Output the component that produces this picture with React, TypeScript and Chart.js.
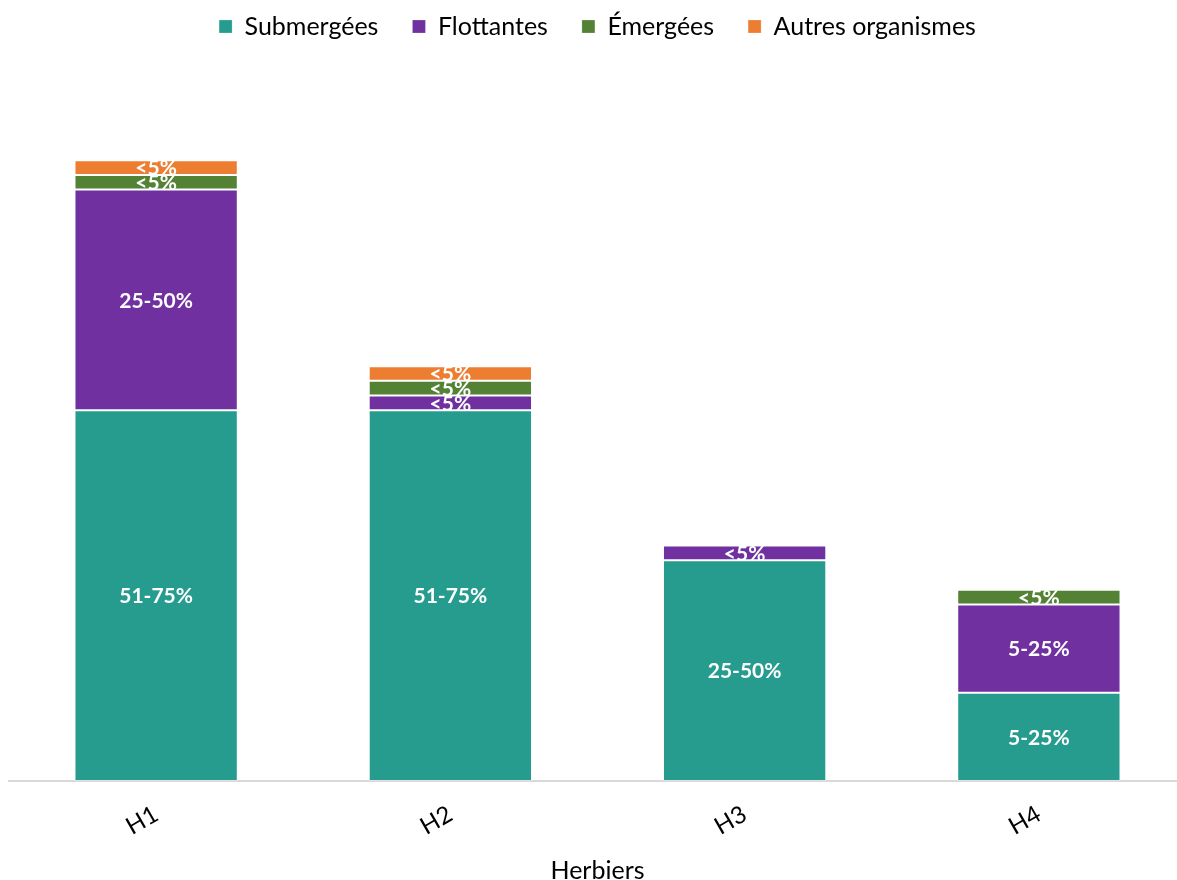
import React, { useEffect, useRef } from "react";
import { Chart, registerables } from "chart.js";

Chart.register(...registerables);

// Herbiers et classes de recouvrement par type de végétation
const herbiers = ["H1", "H2", "H3", "H4"];
const submergees = ["51-75%", "51-75%", "25-50%", "5-25%"];
const flottantes = ["25-50%", "<5%", "<5%", "5-25%"];
const emergees = ["<5%", "<5%", null, "<5%"];
const autres = ["<5%", "<5%", null, null];

// Valeur médiane utilisée pour chaque classe de recouvrement
const classValues: Record<string, number> = {
  "<5%": 2.5,
  "5-25%": 15,
  "25-50%": 37.5,
  "51-75%": 63,
};

const toValues = (classes: (string | null)[]) =>
  classes.map((c) => (c ? classValues[c] : null));

const FONT = "Lato, 'Open Sans', sans-serif";

const segmentLabels = {
  id: "segmentLabels",
  afterDatasetsDraw(chart: any) {
    const ctx = chart.ctx;
    ctx.save();
    ctx.fillStyle = "#ffffff";
    ctx.font = `bold 21px ${FONT}`;
    ctx.textAlign = "center";
    ctx.textBaseline = "middle";
    chart.data.datasets.forEach((ds: any, di: number) => {
      const meta = chart.getDatasetMeta(di);
      if (meta.hidden) return;
      meta.data.forEach((bar: any, i: number) => {
        const cls = ds.classes[i];
        if (!cls) return;
        const cy = (bar.y + bar.base) / 2;
        ctx.fillText(cls, bar.x, cy + 1);
      });
    });
    ctx.restore();
  },
};

export default function App() {
  const canvasRef = useRef<HTMLCanvasElement | null>(null);

  useEffect(() => {
    if (!canvasRef.current) return;
    const mk = (label: string, classes: (string | null)[], color: string) => ({
      label,
      classes,
      data: toValues(classes),
      backgroundColor: color,
      borderColor: "rgba(255,255,255,0.22)",
      borderWidth: 1,
      borderSkipped: false,
      barPercentage: 1,
      categoryPercentage: 0.555,
    });
    const chart = new Chart(canvasRef.current, {
      type: "bar",
      data: {
        labels: herbiers,
        datasets: [
          mk("Submergées", submergees, "#269C8E"),
          mk("Flottantes", flottantes, "#7030A0"),
          mk("Émergées", emergees, "#548235"),
          mk("Autres organismes", autres, "#ED7D31"),
        ] as any,
      },
      options: {
        responsive: false,
        animation: false,
        layout: { padding: { left: 9, right: 0, top: -20, bottom: -10 } },
        plugins: {
          legend: {
            position: "top",
            labels: {
              boxWidth: 13,
              boxHeight: 13,
              padding: 34,
              color: "#000",
              font: { family: FONT, size: 25 },
            },
          },
          tooltip: { enabled: false },
        },
        scales: {
          x: {
            stacked: true,
            grid: { display: false },
            border: { color: "#d9d9d9", width: 2 },
            ticks: {
              color: "#000",
              font: { family: FONT, size: 24 },
              minRotation: 30,
              maxRotation: 30,
              padding: 11,
            },
            title: {
              display: true,
              text: "Herbiers",
              color: "#000",
              font: { family: FONT, size: 25 },
            },
          },
          y: {
            stacked: true,
            display: false,
            min: 0,
            max: 124.4,
          },
        },
      },
      plugins: [segmentLabels],
    });
    return () => chart.destroy();
  }, []);

  return (
    <div
      style={{
        position: "absolute",
        left: 0,
        top: 0,
        width: 1177,
        height: 880,
        overflow: "hidden",
        background: "#fff",
      }}
    >
      <canvas
        ref={canvasRef}
        width={1186}
        height={880}
        style={{ display: "block", width: 1186, height: 880 }}
      />
    </div>
  );
}
